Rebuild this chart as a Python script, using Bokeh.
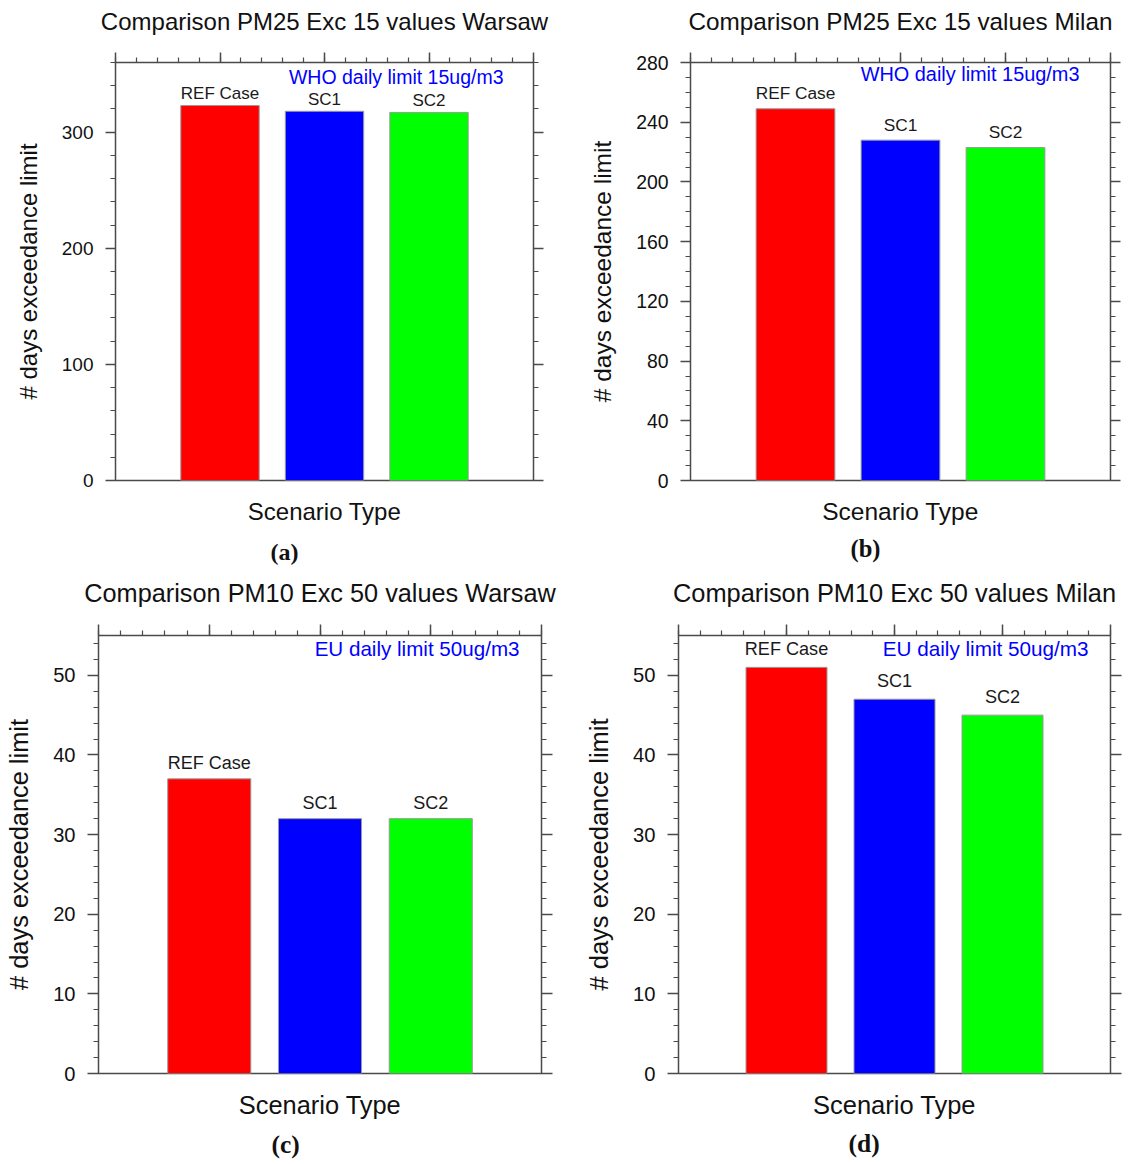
import numpy as np
from bokeh.plotting import figure
from bokeh.models import LinearAxis, FixedTicker, Range1d, Title
from bokeh.layouts import column, row
from bokeh.embed import file_html
from bokeh.resources import INLINE
from bokeh.core.properties import value

# ---------------- data ----------------
scenarios = ["REF Case", "SC1", "SC2"]
pm25_warsaw = [323, 318, 317]
pm25_milan = [249, 228, 223]
pm10_warsaw = [37, 32, 32]
pm10_milan = [51, 47, 45]

titles = [
    "Comparison PM25 Exc 15 values Warsaw",
    "Comparison PM25 Exc 15 values Milan",
    "Comparison PM10 Exc 50 values Warsaw",
    "Comparison PM10 Exc 50 values Milan",
]
limit_labels = [
    "WHO daily limit 15ug/m3",
    "WHO daily limit 15ug/m3",
    "EU daily limit 50ug/m3",
    "EU daily limit 50ug/m3",
]
panel_labels = ["(a)", "(b)", "(c)", "(d)"]
y_ticks_pm25_warsaw = [0, 100, 200, 300]
y_ticks_pm25_milan = [0, 40, 80, 120, 160, 200, 240, 280]
y_ticks_pm10 = [0, 10, 20, 30, 40, 50]
x_label = "Scenario Type"
y_label = "# days exceedance limit"

# ---------------- styles ----------------
bar_colors = ["#ff0000", "#0000ff", "#00ff00"]
LINE = "#4a4a4a"
SANS = "Liberation Sans"
SERIF = "Liberation Serif"


def make_panel(title, values, limit, letter, ymax, yticks, ystep,
               fw, fh, bl, br, bt, bb, s, title_px, lab_off,
               blue_dx, blue_dy, letter_off, letter_standoff):
    p = figure(width=bl + fw + br, height=bt + fh + bb,
               x_range=Range1d(0, 4), y_range=Range1d(0, ymax),
               min_border_left=bl, min_border_right=br,
               min_border_top=bt, min_border_bottom=bb,
               x_axis_location=None, y_axis_location=None,
               toolbar_location=None, output_backend="svg")
    p.grid.visible = False
    p.outline_line_color = LINE
    p.outline_line_width = 1.5
    p.background_fill_color = "white"
    p.border_fill_color = "white"

    minor = list(np.arange(0, ymax + 1e-9, ystep))

    def style_axis(ax, show_labels):
        ax.major_tick_in = 0
        ax.minor_tick_in = 0
        ax.major_tick_out = round(10 * s)
        ax.minor_tick_out = round(5 * s)
        ax.major_tick_line_color = LINE
        ax.minor_tick_line_color = LINE
        ax.major_tick_line_width = 1.5
        ax.minor_tick_line_width = 1.2
        ax.axis_line_color = None
        if show_labels:
            ax.major_label_text_font = SANS
            ax.major_label_text_font_size = f"{19 * s:.1f}px"
            ax.major_label_text_color = "#111111"
            ax.major_label_standoff = 12
        else:
            ax.major_label_text_font_size = "0px"
            ax.major_label_text_color = None
            ax.major_label_standoff = 0

    def style_label(ax, text, size, standoff):
        ax.axis_label = text
        ax.axis_label_text_font = SANS
        ax.axis_label_text_font_size = f"{size:.1f}px"
        ax.axis_label_text_font_style = "normal"
        ax.axis_label_text_color = "#111111"
        ax.axis_label_standoff = standoff

    left = LinearAxis(ticker=FixedTicker(ticks=yticks, minor_ticks=minor))
    style_axis(left, True)
    style_label(left, y_label, 24 * s, 17)
    p.add_layout(left, "left")

    right = LinearAxis(ticker=FixedTicker(ticks=yticks, minor_ticks=minor))
    style_axis(right, False)
    p.add_layout(right, "right")

    # top axis: ticks only, its label carries the panel title
    top = LinearAxis(ticker=FixedTicker(ticks=[0, 1, 2, 3, 4],
                                        minor_ticks=list(np.arange(0, 4.001, 0.2))))
    style_axis(top, False)
    style_label(top, title, title_px, 18)
    p.add_layout(top, "above")

    bottom = LinearAxis(ticker=FixedTicker(ticks=[]))
    bottom.axis_line_color = None
    bottom.major_tick_line_color = None
    bottom.minor_tick_line_color = None
    bottom.major_tick_out = 0
    bottom.major_label_text_font_size = "0px"
    bottom.major_label_text_color = None
    bottom.major_label_standoff = 0
    style_label(bottom, x_label, 24 * s, 17)
    p.add_layout(bottom, "below")

    p.add_layout(Title(text=letter, align="left", offset=letter_off,
                       standoff=letter_standoff, text_font=SERIF,
                       text_font_style="bold", text_font_size=f"{24 * s:.1f}px",
                       text_color="#111111"), "below")

    xs = list(range(1, len(scenarios) + 1))
    p.vbar(x=xs, top=values, bottom=0, width=0.75, fill_color=bar_colors,
           line_color="#9a9a9a", line_width=1)
    p.text(x=xs, y=values, text=scenarios, text_align="center",
           text_baseline="alphabetic", y_offset=lab_off,
           text_font=value(SANS), text_font_size=f"{17 * s:.1f}px",
           text_color="#1a1a1a")
    p.text(x=[4], y=[ymax], text=[limit], text_align="right",
           text_baseline="alphabetic", x_offset=-blue_dx, y_offset=blue_dy,
           text_font=value(SANS), text_font_size=f"{19.5 * s:.1f}px",
           text_color="#0000ff")
    return p


pa = make_panel(titles[0], pm25_warsaw, limit_labels[0], panel_labels[0],
                360, y_ticks_pm25_warsaw, 20,
                418, 418, 115, 30, 62, 95, 1.0, 24, -11.5, 30, 14, 155, 19)
pb = make_panel(titles[1], pm25_milan, limit_labels[1], panel_labels[1],
                280, y_ticks_pm25_milan, 10,
                420, 426, 127, 15, 61, 88, 1.02, 24.3, -15.5, 31, 11, 160, 11)
pc = make_panel(titles[2], pm10_warsaw, limit_labels[2], panel_labels[2],
                55, y_ticks_pm10, 2,
                443, 440, 98, 30, 58, 91, 1.057, 25.3, -16, 22, 13, 173, 13)
pd_ = make_panel(titles[3], pm10_milan, limit_labels[3], panel_labels[3],
                 55, y_ticks_pm10, 2,
                 432, 442, 107, 15, 58, 89, 1.064, 25.4, -18, 22, 13, 170, 11)

layout = column(row(pa, pb), row(pc, pd_))
open("out.html", "w").write(file_html(layout, INLINE))
